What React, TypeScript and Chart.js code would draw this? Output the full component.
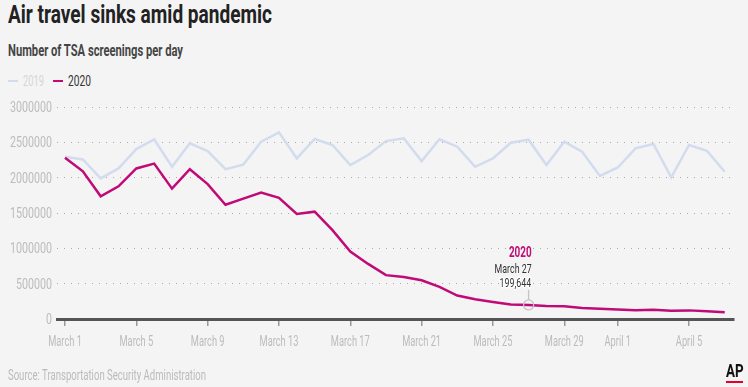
import React, { useEffect, useLayoutEffect, useRef } from 'react';
import { Chart, registerables } from 'chart.js';

Chart.register(...registerables);

const FONT = "Roboto, 'DejaVu Sans', sans-serif";
const MAGENTA = '#bf0a78';
const LIGHT = '#d3dcee';

// March 1 .. April 7 (index 0 = March 1)
const values2020 = [
  2280522, 2089849, 1736393, 1877401, 2130015, 2198517, 1844811, 2119867, 1909363, 1617220,
  1702686, 1788456, 1714372, 1485553, 1519192, 1257823, 953699, 779631, 620883, 593167,
  548132, 454516, 331431, 279018, 239234, 203858, 199644, 184027, 180002, 154080,
  146348, 136023, 124021, 129763, 118302, 122029, 108310, 97130,
];
const values2019 = [
  2295000, 2258000, 1989000, 2131000, 2405000, 2543000, 2154000, 2486000, 2376000, 2121000,
  2185000, 2509000, 2642000, 2273000, 2547000, 2462000, 2178000, 2320000, 2518000, 2557000,
  2234000, 2543000, 2438000, 2154000, 2273000, 2495000, 2537000, 2178000, 2509000, 2367000,
  2024000, 2144000, 2415000, 2476000, 2003000, 2462000, 2381000, 2083000,
];
const tickDays = [0, 4, 8, 12, 16, 20, 24, 28, 31, 35];
const tickLabels = ['March 1', 'March 5', 'March 9', 'March 13', 'March 17', 'March 21', 'March 25', 'March 29', 'April 1', 'April 5'];
const yTicks = [0, 500000, 1000000, 1500000, 2000000, 2500000, 3000000];
const annotIndex = 26;
const annotDate = 'March 27';
const annotSeries = '2020';

// draw text horizontally condensed so that `sample` would have width `target`
function condensed(ctx: any, font: string, sample: string, target: number) {
  ctx.font = font;
  const w = ctx.measureText(sample).width;
  return w > 0 ? target / w : 1;
}
function drawText(ctx: any, text: string, x: number, y: number, k: number, align: CanvasTextAlign) {
  ctx.save();
  ctx.translate(x, y);
  ctx.scale(k, 1);
  ctx.textAlign = align;
  ctx.textBaseline = 'alphabetic';
  ctx.fillText(text, 0, 0);
  ctx.restore();
}

const labelsPlugin = {
  id: 'condensedLabels',
  afterDraw(chart: any) {
    const ctx = chart.ctx;
    const xs = chart.scales.x;
    const ys = chart.scales.y;
    ctx.save();
    // y tick labels
    const yFont = `14px ${FONT}`;
    const ky = condensed(ctx, yFont, '3000000', 42);
    ctx.fillStyle = '#bbb';
    yTicks.forEach((v) => {
      const py = ys.getPixelForValue(v);
      drawText(ctx, String(v), ys.right - 5, py + 5, ky, 'right');
    });
    // x tick labels
    const xFont = `14px ${FONT}`;
    const kx = condensed(ctx, xFont, 'March 1', 33.7);
    tickDays.forEach((d, i) => {
      const px = xs.getPixelForValue(d);
      drawText(ctx, tickLabels[i], px, xs.top + 27, kx, 'center');
    });
    ctx.restore();
  },
};

const annotationPlugin = {
  id: 'annot',
  afterDatasetsDraw(chart: any) {
    const meta = chart.getDatasetMeta(0);
    const pt = meta.data[annotIndex];
    if (!pt) return;
    const x = pt.x;
    const y = pt.y;
    const ctx = chart.ctx;
    ctx.save();
    ctx.strokeStyle = '#c4c4c4';
    ctx.lineWidth = 1.3;
    ctx.beginPath();
    ctx.moveTo(x, y - 5);
    ctx.lineTo(x, y - 15);
    ctx.stroke();
    ctx.beginPath();
    ctx.arc(x, y, 5, 0, Math.PI * 2);
    ctx.stroke();

    const bFont = `bold 14px ${FONT}`;
    const kb = condensed(ctx, bFont, annotSeries, 22.7);
    ctx.fillStyle = MAGENTA;
    drawText(ctx, annotSeries, x + 3, y - 48, kb, 'right');

    const nFont = `13.5px ${FONT}`;
    const kn = condensed(ctx, nFont, annotDate, 37);
    ctx.fillStyle = '#333';
    drawText(ctx, annotDate, x + 3, y - 32, kn, 'right');

    const valText = values2020[annotIndex].toLocaleString('en-US');
    ctx.save();
    ctx.translate(x + 2.5, y - 18.3);
    ctx.scale(kn, 1);
    ctx.textAlign = 'right';
    ctx.textBaseline = 'alphabetic';
    ctx.lineWidth = 3;
    ctx.lineJoin = 'round';
    ctx.strokeStyle = '#ffffff';
    ctx.strokeText(valText, 0, 0);
    ctx.fillText(valText, 0, 0);
    ctx.restore();
    ctx.restore();
  },
};

function TsaChart() {
  const ref = useRef<HTMLCanvasElement | null>(null);
  useEffect(() => {
    if (!ref.current) return;
    const chart = new Chart(ref.current, {
      type: 'line',
      data: {
        datasets: [
          {
            label: '2020',
            data: values2020.map((v, i) => ({ x: i, y: v })),
            borderColor: MAGENTA,
            borderWidth: 2.5,
            pointRadius: 0,
            tension: 0,
          },
          {
            label: '2019',
            data: values2019.map((v, i) => ({ x: i, y: v })),
            borderColor: LIGHT,
            borderWidth: 2.5,
            pointRadius: 0,
            tension: 0,
          },
        ],
      },
      options: {
        responsive: false,
        animation: false,
        events: [],
        layout: { padding: { left: 0, right: 14, top: 107, bottom: 38 } },
        plugins: { legend: { display: false }, tooltip: { enabled: false }, title: { display: false } },
        scales: {
          x: {
            type: 'linear',
            min: -0.45,
            max: 37.52,
            afterBuildTicks: (axis: any) => {
              axis.ticks = tickDays.map((v) => ({ value: v }));
            },
            afterFit: (s: any) => {
              s.height = 30;
            },
            grid: {
              display: true,
              drawOnChartArea: false,
              drawTicks: true,
              tickLength: 7,
              color: '#999',
              lineWidth: 1.5,
            },
            border: { display: true, color: '#555', width: 3 },
            ticks: { display: false },
          },
          y: {
            min: 0,
            max: 3000000,
            afterBuildTicks: (axis: any) => {
              axis.ticks = yTicks.map((v) => ({ value: v }));
            },
            afterFit: (s: any) => {
              s.width = 57;
            },
            grid: { color: '#aaa', lineWidth: 1, drawTicks: false },
            border: { display: false, dash: [1, 6] },
            ticks: { display: false },
          },
        },
      },
      plugins: [annotationPlugin, labelsPlugin],
    } as any);
    return () => chart.destroy();
  }, []);
  return (
    <canvas ref={ref} width={748} height={387} style={{ position: 'absolute', left: 0, top: 0, width: 748, height: 387 }} />
  );
}

function Fit(props: { text: string; width: number; style: React.CSSProperties }) {
  const ref = useRef<HTMLSpanElement | null>(null);
  useLayoutEffect(() => {
    const el = ref.current;
    if (!el) return;
    const fit = () => {
      el.style.transform = 'none';
      const w = el.getBoundingClientRect().width;
      if (w > 0) el.style.transform = `scaleX(${props.width / w})`;
    };
    fit();
    if ((document as any).fonts && (document as any).fonts.ready) (document as any).fonts.ready.then(fit);
  }, [props.text, props.width]);
  return (
    <span
      ref={ref}
      style={{
        position: 'absolute',
        display: 'inline-block',
        fontFamily: FONT,
        lineHeight: 1,
        whiteSpace: 'nowrap',
        transformOrigin: '0 0',
        ...props.style,
      }}
    >
      {props.text}
    </span>
  );
}

export default function App() {
  return (
    <div style={{ position: 'absolute', left: 0, top: 0, width: 748, height: 387, background: '#f4f4f4', overflow: 'hidden' }}>
      <Fit text="Air travel sinks amid pandemic" width={264} style={{ left: 8, top: 1.7, fontSize: 25.7, fontWeight: 'bold', color: '#222' }} />
      <Fit text="Number of TSA screenings per day" width={175} style={{ left: 8, top: 42, fontSize: 17.4, fontWeight: 'bold', color: '#444' }} />
      <div style={{ position: 'absolute', left: 8, top: 80, width: 10, height: 2, background: LIGHT }} />
      <Fit text="2019" width={21} style={{ left: 23.3, top: 74.2, fontSize: 14, color: '#d6d6d6' }} />
      <div style={{ position: 'absolute', left: 53, top: 80, width: 10, height: 2, background: MAGENTA }} />
      <Fit text="2020" width={23} style={{ left: 67.7, top: 74.2, fontSize: 14, color: '#333' }} />
      <TsaChart />
      <Fit text="Source: Transportation Security Administration" width={198} style={{ left: 8.3, top: 367.5, fontSize: 14, color: '#bbb' }} />
      <Fit text="AP" width={17.6} style={{ left: 725.7, top: 362, fontSize: 18.5, fontWeight: 'bold', color: '#111' }} />
      <div style={{ position: 'absolute', left: 725.7, top: 381, width: 17.4, height: 2, background: '#e4002b' }} />
    </div>
  );
}
